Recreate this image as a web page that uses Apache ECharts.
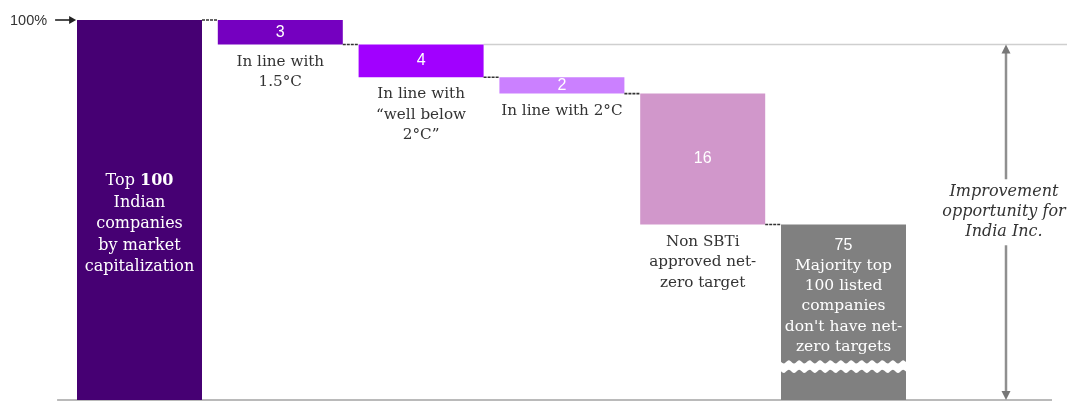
<!DOCTYPE html>
<html>
<head>
<meta charset="utf-8">
<script src="https://cdn.jsdelivr.net/npm/echarts@6/dist/echarts.min.js"></script>
<style>
  html, body { margin: 0; padding: 0; background: #ffffff; }
  #chart { width: 1072px; height: 406px; }
</style>
</head>
<body>
<div id="chart"></div>
<script>
// ---- data ----
const categories = ['Top 100', '1.5°C', 'Well below 2°C', '2°C', 'Non SBTi net-zero', 'No net-zero target'];
const values = [100, 3, 4, 2, 16, 75];
const valueLabels = ['', '3', '4', '2', '16', '75'];
const insideTexts = [
  'Top {b|100}\nIndian\ncompanies\nby market\ncapitalization',
  '', '', '', '',
  'Majority top\n100 listed\ncompanies\ndon\'t have net-\nzero targets'
];
const captions = [
  '',
  'In line with\n1.5°C',
  'In line with\n“well below\n2°C”',
  'In line with 2°C',
  'Non SBTi\napproved net-\nzero target',
  ''
];
const opportunityValue = 97;   // companies not yet aligned with 1.5°C
const opportunityText = 'Improvement\nopportunity for\nIndia Inc.';
const totalLabel = '100%';

// ---- styling ----
const palette = ['#460073', '#7500C0', '#A100FF', '#CB80FF', '#D197CB', '#808080'];
const SERIF = '"DejaVu Serif", serif';
const SANS = '"Liberation Sans", Arial, sans-serif';
const BAR_W = 125;
const AXIS_BREAK = { start: 3.5, end: 58.2 };

// waterfall rows: [index, bottom, top]
const rows = [];
let level = 0;
values.forEach((v, i) => {
  if (i === 0) { rows.push([i, 0, v]); level = v; }
  else { rows.push([i, level - v, level]); level -= v; }
});
// connector rows: [index, level shared with the next bar]
const connectors = rows.slice(0, -1).map((r, i) => [i, rows[i + 1][2]]);

function wavePoints(x0, w, yTop, yBot) {
  const amp = 1.6, period = 10.4, pts = [];
  for (let x = 0; x <= w; x += 1) pts.push([x0 + x, yTop + amp * Math.sin(2 * Math.PI * x / period)]);
  for (let x = w; x >= 0; x -= 1) pts.push([x0 + x, yBot + amp * Math.sin(2 * Math.PI * x / period)]);
  return pts;
}

function renderBar(params, api) {
  const i = api.value(0);
  const pTop = api.coord([i, api.value(2)]);
  const pBot = api.coord([i, api.value(1)]);
  const cx = pTop[0];
  const x0 = cx - BAR_W / 2;
  const h = pBot[1] - pTop[1];
  const kids = [{
    type: 'rect',
    shape: { x: x0, y: pTop[1], width: BAR_W, height: h },
    style: { fill: palette[i] }
  }];
  const last = i === values.length - 1;
  if (last) {
    // wavy cut where the value axis is broken
    const yLow = api.coord([i, AXIS_BREAK.start])[1];
    const yHigh = api.coord([i, AXIS_BREAK.end])[1];
    kids.push({ type: 'polygon', shape: { points: wavePoints(x0, BAR_W, yHigh, yLow) }, style: { fill: '#ffffff' } });
  }
  if (valueLabels[i]) {
    kids.push({
      type: 'text',
      style: {
        text: valueLabels[i], x: cx, y: last ? pTop[1] + 21 : pTop[1] + h / 2,
        align: 'center', verticalAlign: 'middle',
        font: '16px ' + SANS, fill: '#ffffff'
      }
    });
  }
  if (insideTexts[i]) {
    const size = last ? 15.5 : 16;
    const lh = last ? 20.3 : 21.6;
    kids.push({
      type: 'text',
      style: {
        text: insideTexts[i], x: cx,
        y: last ? pTop[1] + 31 : pTop[1] + h / 2 + 14,
        align: 'center', verticalAlign: last ? 'top' : 'middle',
        fontFamily: SERIF, fontSize: size, fill: '#ffffff', lineHeight: lh,
        rich: { b: { fontFamily: SERIF, fontSize: size, fontWeight: 'bold', fill: '#ffffff', lineHeight: lh } }
      }
    });
  }
  if (captions[i]) {
    kids.push({
      type: 'text',
      style: {
        text: captions[i], x: cx, y: pBot[1] + 7,
        align: 'center', verticalAlign: 'top',
        fontFamily: SERIF, fontSize: 15.2, fill: '#333333', lineHeight: 20.5
      }
    });
  }
  return { type: 'group', children: kids };
}

function renderConnector(params, api) {
  const i = api.value(0), lv = api.value(1);
  const a = api.coord([i, lv]), b = api.coord([i + 1, lv]);
  return {
    type: 'line',
    shape: { x1: a[0] + BAR_W / 2, y1: a[1], x2: b[0] - BAR_W / 2, y2: a[1] },
    style: { stroke: '#333333', lineWidth: 1.6, lineDash: [3, 1] }
  };
}

function renderGuides(params, api) {
  const cs = params.coordSys;
  const n = values.length;
  const y0 = api.coord([0, 0])[1];
  const yOpp = api.coord([0, opportunityValue])[1];
  const yTot = api.coord([0, values[0]])[1];
  const k = rows.findIndex(r => r[2] === opportunityValue);
  const xStart = api.coord([k, opportunityValue])[0] + BAR_W / 2;
  const ax = api.coord([n - 1, 0])[0] + 162.5;
  const ym = (yOpp + y0) / 2 - 10;
  const grey = '#8f8f8f';
  return {
    type: 'group',
    children: [
      { type: 'line', shape: { x1: cs.x - 12, y1: y0, x2: 1052, y2: y0 }, style: { stroke: '#a3a3a3', lineWidth: 1.5 } },
      { type: 'line', shape: { x1: xStart, y1: yOpp, x2: 1067, y2: yOpp }, style: { stroke: '#cfcfcf', lineWidth: 1.5 } },
      { type: 'line', shape: { x1: ax, y1: yOpp + 8, x2: ax, y2: ym - 33 }, style: { stroke: grey, lineWidth: 2.5 } },
      { type: 'line', shape: { x1: ax, y1: ym + 33, x2: ax, y2: y0 - 8 }, style: { stroke: grey, lineWidth: 2.5 } },
      { type: 'polygon', shape: { points: [[ax - 4.5, yOpp + 9], [ax + 4.5, yOpp + 9], [ax, yOpp]] }, style: { fill: '#777777' } },
      { type: 'polygon', shape: { points: [[ax - 4.5, y0 - 9], [ax + 4.5, y0 - 9], [ax, y0]] }, style: { fill: '#777777' } },
      {
        type: 'text',
        style: {
          text: opportunityText, x: ax - 2, y: ym, align: 'center', verticalAlign: 'middle',
          fontFamily: SERIF, fontStyle: 'italic', fontSize: 16, fill: '#333333', lineHeight: 20
        }
      },
      {
        type: 'text',
        style: {
          text: totalLabel, x: cs.x - 22, y: yTot + 1, align: 'right', verticalAlign: 'middle',
          font: '14.5px ' + SANS, fill: '#333333'
        }
      },
      { type: 'line', shape: { x1: cs.x - 14, y1: yTot, x2: cs.x + 1, y2: yTot }, style: { stroke: '#222222', lineWidth: 1.6 } },
      { type: 'polygon', shape: { points: [[cs.x, yTot - 4], [cs.x, yTot + 4], [cs.x + 7, yTot]] }, style: { fill: '#222222' } }
    ]
  };
}

const chart = echarts.init(document.getElementById('chart'));
chart.setOption({
  animation: false,
  backgroundColor: '#ffffff',
  grid: { left: 69.1, top: 20, width: 844.8, bottom: 6 },
  xAxis: { type: 'category', data: categories, show: false },
  yAxis: {
    type: 'value', min: 0, max: 100,
    axisLine: { show: false }, axisTick: { show: false }, axisLabel: { show: false }, splitLine: { show: false },
    breaks: [{ start: AXIS_BREAK.start, end: AXIS_BREAK.end, gap: '2.5%' }],
    breakArea: { show: false, itemStyle: { opacity: 0, borderWidth: 0 } }
  },
  series: [
    { type: 'custom', name: 'guides', clip: false, data: [[0, opportunityValue]], renderItem: renderGuides, silent: true },
    { type: 'custom', name: 'bars', clip: false, data: rows, encode: { x: 0, y: [1, 2] }, renderItem: renderBar },
    { type: 'custom', name: 'connectors', clip: false, data: connectors, encode: { x: 0, y: 1 }, renderItem: renderConnector, silent: true }
  ]
});
</script>
</body>
</html>
